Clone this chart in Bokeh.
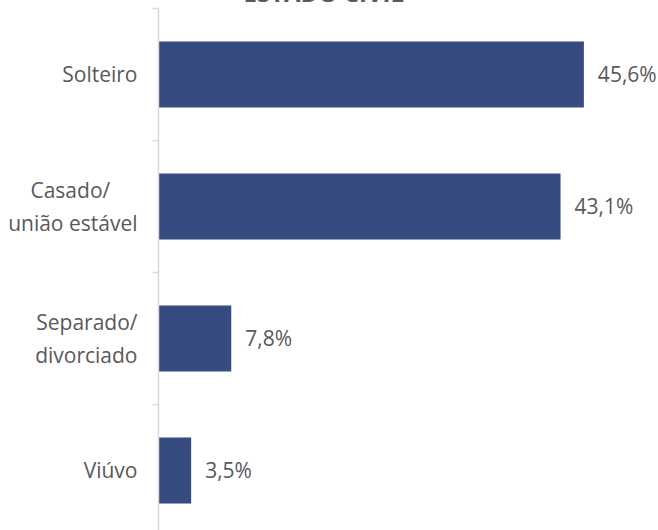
from bokeh.plotting import figure
from bokeh.models import Range1d, FixedTicker, ColumnDataSource, Title
from bokeh.core.properties import value
from bokeh.embed import file_html
from bokeh.resources import INLINE

categories = ["Solteiro", "Casado/\u00a0\u00a0\u00a0\u00a0\u00a0\nunião estável", "Separado/\ndivorciado", "Viúvo"]
values = [45.6, 43.1, 7.8, 3.5]
title_text = "ESTADO CIVIL"

positions = list(range(1, len(categories) + 1))
labels = [f"{v:.1f}".replace(".", ",") + "%" for v in values]

src = ColumnDataSource(dict(y=positions, v=values, lab=labels))

FONT = "Open Sans"
GRAY = "#595959"

p = figure(width=658, height=562, output_backend="svg", toolbar_location=None,
           x_range=Range1d(0, 53.6), y_range=Range1d(4.47, 0.5),
           min_border_top=38, min_border_left=158, min_border_right=0, min_border_bottom=0,
           x_axis_location=None)
p.styles = {"margin-top": "-30px", "margin-bottom": "-30px"}
p.outline_line_color = None
p.xgrid.visible = False
p.ygrid.visible = False
p.background_fill_color = "white"
p.border_fill_color = "white"

p.hbar(y="y", right="v", left=0, height=0.5, source=src,
       fill_color="#364b7f", line_color=None)
p.text(x="v", y="y", text="lab", source=src, x_offset=14,
       text_align="left", text_baseline="middle",
       text_font=value(FONT), text_font_size="21px", text_color=GRAY)

yax = p.yaxis[0]
yax.ticker = FixedTicker(ticks=positions,
                         minor_ticks=[x + 0.5 for x in [0] + positions])
yax.major_label_overrides = {pos: c for pos, c in zip(positions, categories)}
yax.major_tick_out = 0
yax.major_tick_in = 0
yax.minor_tick_out = 6
yax.minor_tick_in = 0
yax.minor_tick_line_color = "#d9d9d9"
yax.axis_line_color = "#d9d9d9"
yax.axis_line_width = 1.5
yax.minor_tick_line_width = 1.5
yax.major_label_standoff = 15
yax.major_label_text_font = FONT
yax.major_label_text_font_size = "21px"
yax.major_label_text_color = GRAY

p.title = Title(text=title_text, align="left", offset=85,
                text_font=FONT, text_font_size="24px", text_font_style="bold",
                text_color=GRAY, standoff=0)

open("out.html", "w").write(file_html(p, INLINE))
